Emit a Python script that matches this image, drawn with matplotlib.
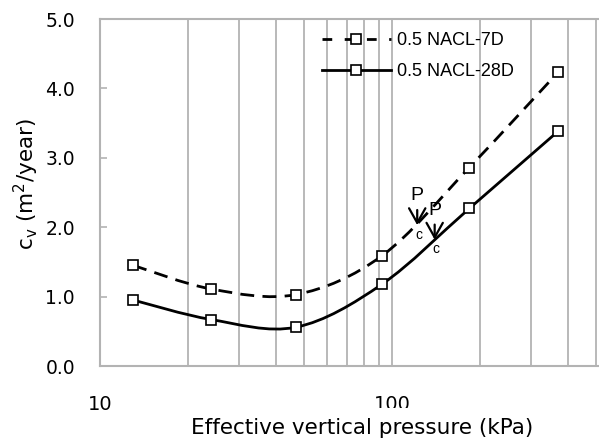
import numpy as np
import matplotlib
matplotlib.use('Agg')
from matplotlib import pyplot as plt
from matplotlib.path import Path
from matplotlib.patches import PathPatch
from matplotlib.lines import Line2D

# data
pressure = [13, 24, 47, 92.5, 184, 370]
cv_7d = [1.45, 1.11, 1.03, 1.59, 2.86, 4.23]
cv_28d = [0.95, 0.67, 0.56, 1.18, 2.27, 3.38]
series_labels = ['0.5 NACL-7D', '0.5 NACL-28D']
# preconsolidation pressure marks (kPa, cv)
pc_x = [122, 140]
pc_y = [2.03, 1.82]
yticks = [0.0, 1.0, 2.0, 3.0, 4.0, 5.0]
xtick_values = [10, 100]
grid_values = [20, 30, 40, 50, 60, 70, 80, 90, 100, 200, 300, 400, 500]

W, H = 599, 441
fig = plt.figure(figsize=(W / 100, H / 100), dpi=100)
# axes run from 10 to 1000; the reference image is cropped on the right
ax = fig.add_axes([100 / W, 75 / H, 584 / W, 347 / H])
ax.set_xscale('log')
ax.set_xlim(10, 1000)
ax.set_ylim(0, 5)

gray = '#b3b3b3'
for g in grid_values:
    ax.axvline(g, color=gray, lw=1.3, zorder=0)

for side in ['left', 'top', 'right', 'bottom']:
    ax.spines[side].set_color(gray)
    ax.spines[side].set_linewidth(1.5)

ax.set_yticks(yticks)
ax.set_yticklabels(['%.1f' % v for v in yticks])
ax.tick_params(axis='y', direction='in', length=5, width=1.2, color=gray,
               pad=18, labelsize=13.5, labelcolor='black')
ax.set_xticks(xtick_values)
ax.set_xticklabels(['%d' % v for v in xtick_values])
ax.xaxis.set_minor_locator(matplotlib.ticker.NullLocator())
ax.tick_params(axis='x', which='both', length=0, pad=21, labelsize=14)


def smooth_path(xs, ys):
    # Excel style smoothed line: bezier through points, in log-x space
    lx = np.log10(xs)
    y = np.asarray(ys, float)
    n = len(lx)
    verts = [(xs[0], y[0])]
    codes = [Path.MOVETO]
    for i in range(n - 1):
        i0 = max(i - 1, 0)
        i3 = min(i + 2, n - 1)
        c1 = (lx[i] + (lx[i + 1] - lx[i0]) / 6, y[i] + (y[i + 1] - y[i0]) / 6)
        c2 = (lx[i + 1] - (lx[i3] - lx[i]) / 6, y[i + 1] - (y[i3] - y[i]) / 6)
        verts += [(10 ** c1[0], c1[1]), (10 ** c2[0], c2[1]), (xs[i + 1], y[i + 1])]
        codes += [Path.CURVE4] * 3
    return Path(verts, codes)


lw = 2.0
dash = (5.0, 3.0)
p7 = PathPatch(smooth_path(pressure, cv_7d), fill=False, ec='black', lw=lw,
               ls=(0, dash), zorder=3, capstyle='butt')
p28 = PathPatch(smooth_path(pressure, cv_28d), fill=False, ec='black', lw=lw,
                zorder=3)
ax.add_patch(p7)
ax.add_patch(p28)
mk = dict(marker='s', ms=7.5, mfc='white', mec='black', mew=1.2, ls='none', zorder=4)
ax.plot(pressure, cv_7d, **mk)
ax.plot(pressure, cv_28d, **mk)

for x, y in zip(pc_x, pc_y):
    ax.annotate('P', xy=(x, y), xytext=(x, y + 0.42), ha='center', va='center',
                fontsize=14, fontfamily='Liberation Sans',
                arrowprops=dict(arrowstyle='->,head_length=0.75,head_width=0.42',
                                lw=1.6, color='black', shrinkA=2, shrinkB=0))
    ax.annotate('c', xy=(x, y), xytext=(1, -7), textcoords='offset points',
                ha='center', va='center', fontsize=10, fontfamily='Liberation Sans')

handles = [Line2D([], [], color='black', lw=lw, ls=(0, (3.5, 4.5)), marker='s', ms=7.5,
                  mfc='white', mec='black', mew=1.2),
           Line2D([], [], color='black', lw=lw, marker='s', ms=7.5,
                  mfc='white', mec='black', mew=1.2)]
leg = ax.legend(handles, series_labels, loc='upper left',
                bbox_to_anchor=(322 / W, 1 - 32 / H), bbox_transform=fig.transFigure,
                frameon=False, handlelength=3.8, handletextpad=0.33,
                labelspacing=0.78, borderpad=0, borderaxespad=0,
                prop={'family': 'Liberation Sans', 'size': 13})

# white box of the axis title hides the lower part of the "100" label, as in the reference
fig.text(362 / W, 1 - 428 / H, 'Effective vertical pressure (kPa)', ha='center',
         va='center', fontsize=15.5,
         bbox=dict(boxstyle='square,pad=0.46', fc='white', ec='none'))
fig.text(26 / W, 1 - 184 / H, r'c$_\mathregular{v}$ (m$^\mathregular{2}$/year)',
         ha='center', va='center', rotation=90, fontsize=15.5)

fig.savefig('out.png', dpi=100)
